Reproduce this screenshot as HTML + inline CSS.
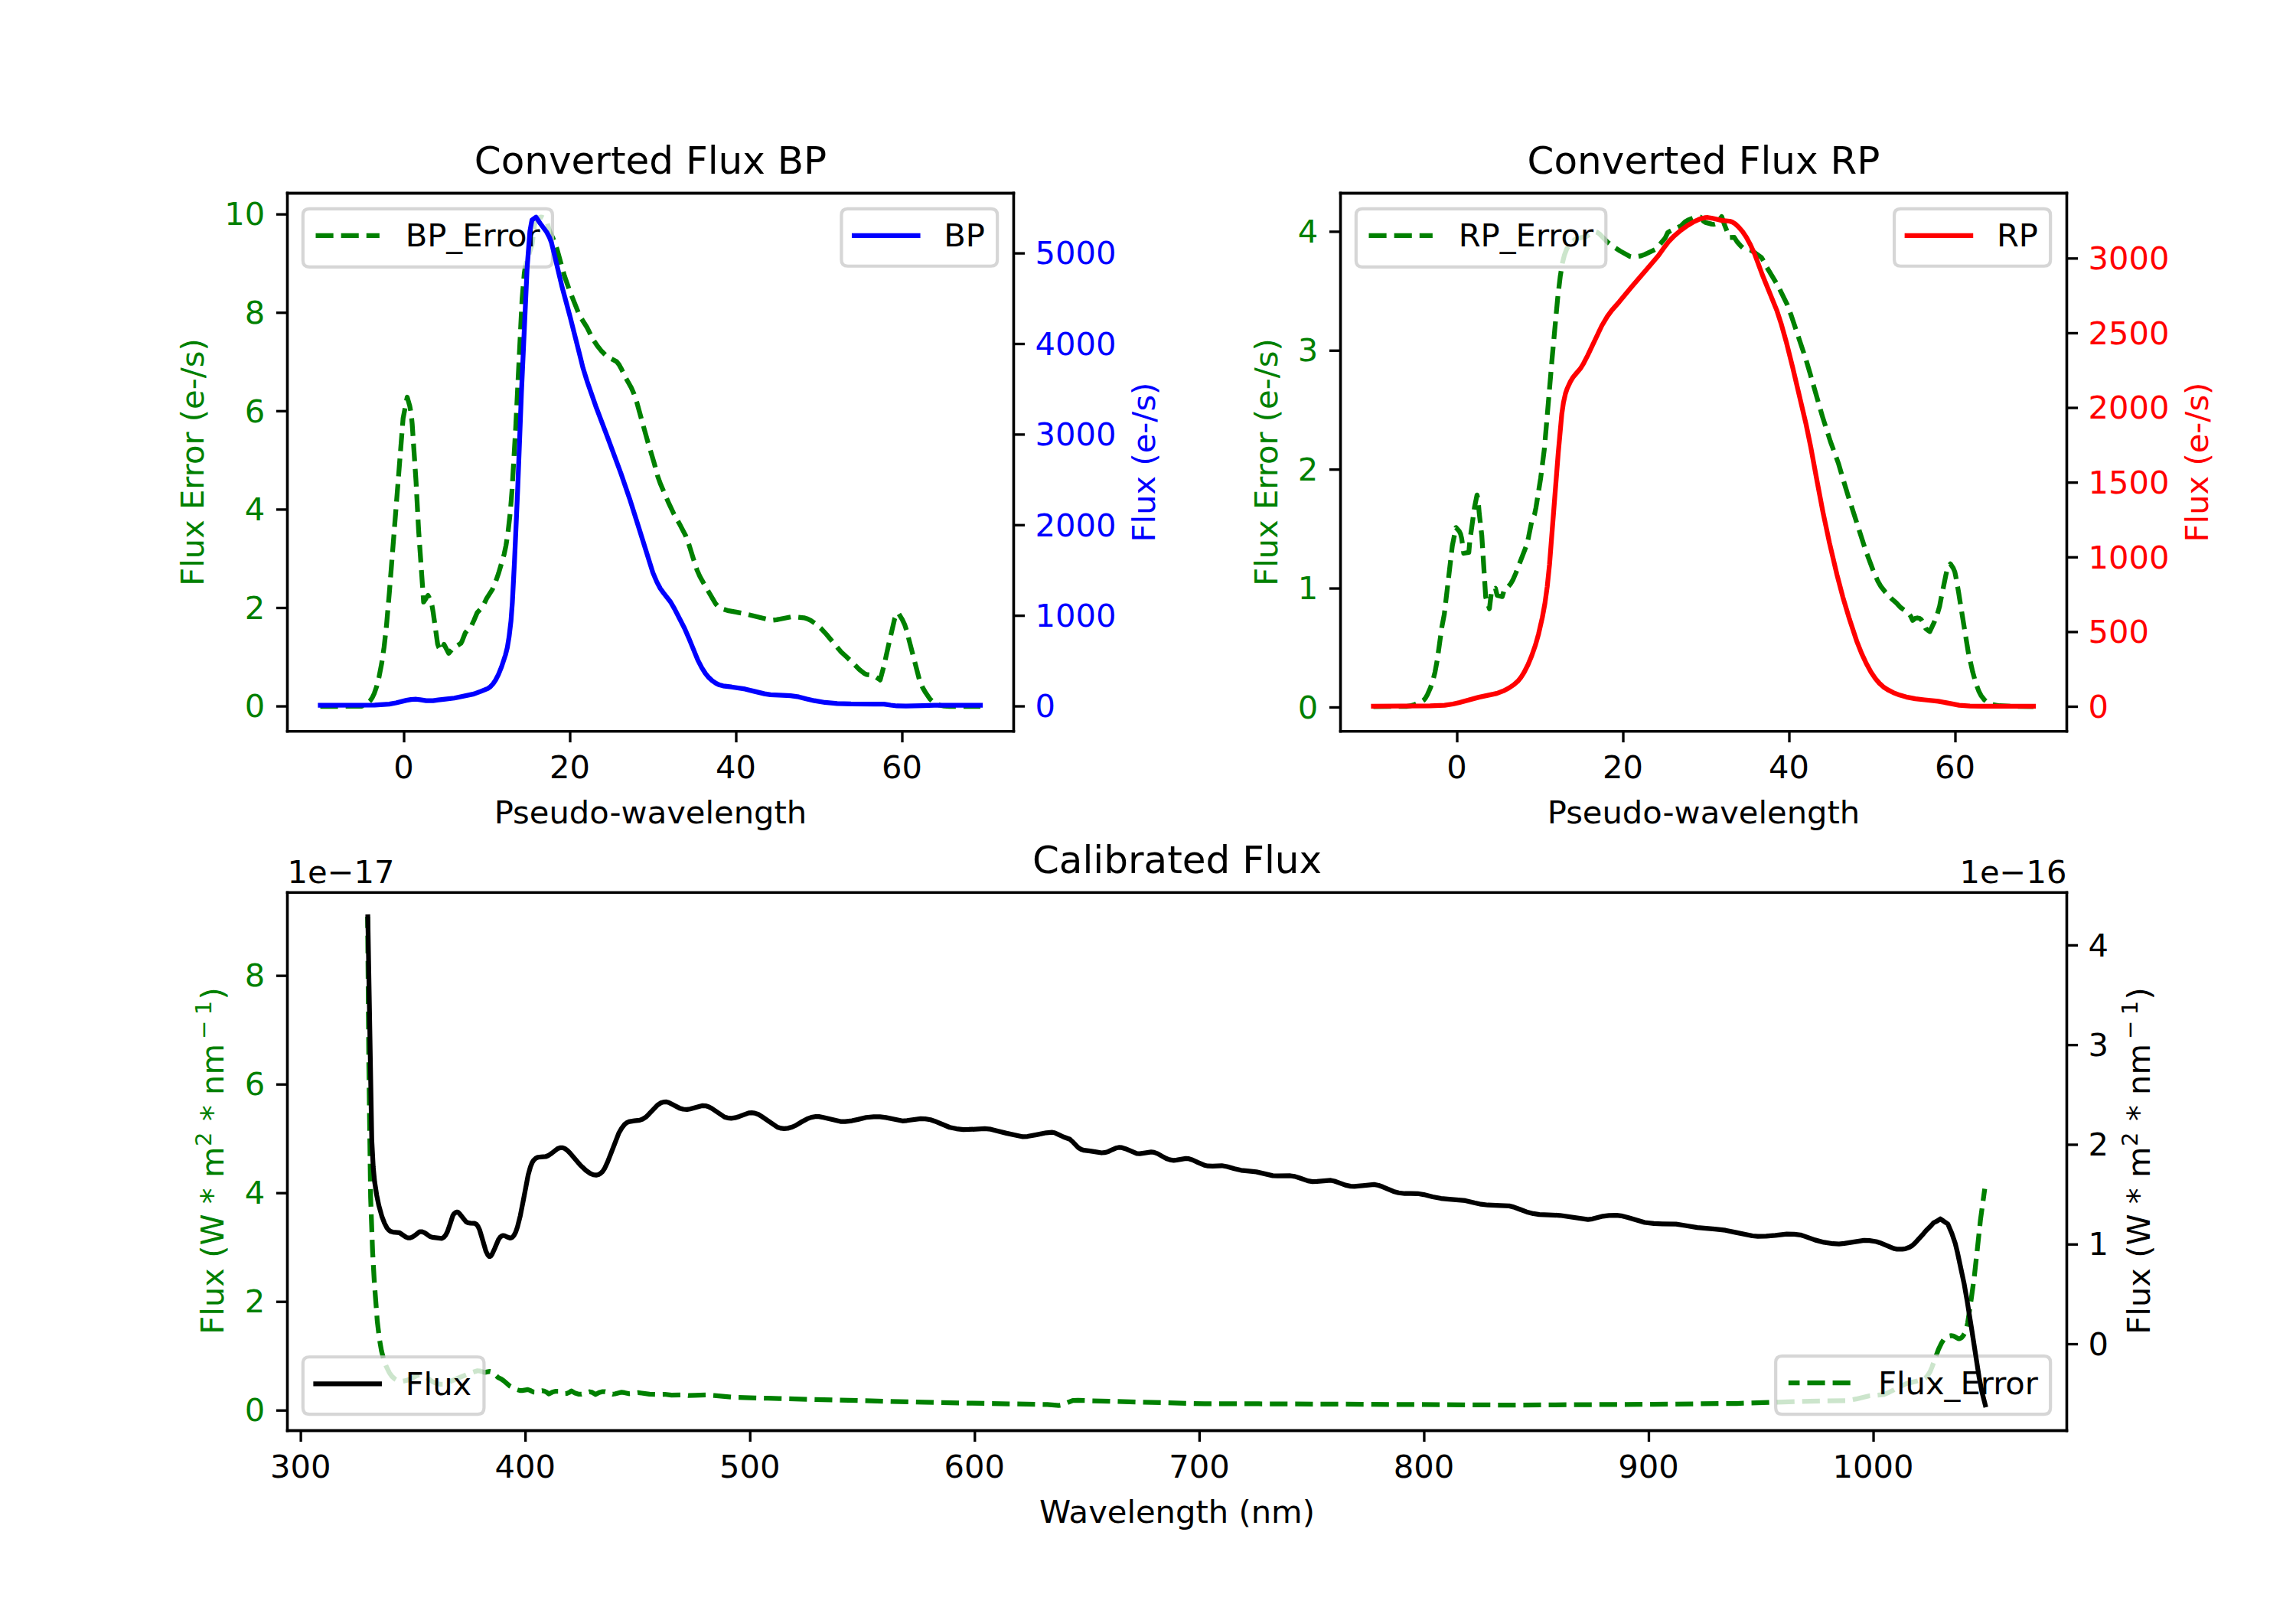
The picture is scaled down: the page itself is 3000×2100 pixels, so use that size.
<!DOCTYPE html>
<html lang="en"><head><meta charset="utf-8"><title>Flux plots</title>
<style>html,body{margin:0;padding:0;background:#fff;width:3000px;height:2100px;overflow:hidden}svg{display:block}</style>
</head><body>
<svg width="3000" height="2100" viewBox="0 0 720 504"><g transform="translate(0.12 0.12)">
 
 <defs>
  <style type="text/css">*{stroke-linejoin: round; stroke-linecap: butt}</style>
 </defs>
 <g id="figure_1">
  <g id="patch_1">
   <path d="M 0 504 
L 720 504 
L 720 0 
L 0 0 
z
" style="fill: #ffffff"/>
  </g>
  <g id="axes_1">
   <g id="patch_2">
    <path d="M 90 229.210 
L 317.755 229.210 
L 317.755 60.48 
L 90 60.48 
z
" style="fill: #ffffff"/>
   </g>
   <g id="matplotlib.axis_1">
    <g id="xtick_1">
     <g id="line2d_1">
      <defs>
       <path id="m08b7088332" d="M 0 0 
L 0 3.5 
" style="stroke: #000000; stroke-width: 0.8"/>
      </defs>
      <g>
       <use href="#m08b7088332" x="126.598" y="229.210" style="stroke: #000000; stroke-width: 0.8"/>
      </g>
     </g>
     <g id="text_1">
      <text transform="translate(-0.1 0.17)" style="font-size: 10px; font-family: 'DejaVu Sans', 'Liberation Sans', sans-serif; text-anchor: middle" x="126.598" y="243.808">0</text>
     </g>
    </g>
    <g id="xtick_2">
     <g id="line2d_2">
      <g>
       <use href="#m08b7088332" x="178.677" y="229.210" style="stroke: #000000; stroke-width: 0.8"/>
      </g>
     </g>
     <g id="text_2">
      <text transform="translate(-0.1 0.17)" style="font-size: 10px; font-family: 'DejaVu Sans', 'Liberation Sans', sans-serif; text-anchor: middle" x="178.677" y="243.808">20</text>
     </g>
    </g>
    <g id="xtick_3">
     <g id="line2d_3">
      <g>
       <use href="#m08b7088332" x="230.756" y="229.210" style="stroke: #000000; stroke-width: 0.8"/>
      </g>
     </g>
     <g id="text_3">
      <text transform="translate(-0.1 0.17)" style="font-size: 10px; font-family: 'DejaVu Sans', 'Liberation Sans', sans-serif; text-anchor: middle" x="230.756" y="243.808">40</text>
     </g>
    </g>
    <g id="xtick_4">
     <g id="line2d_4">
      <g>
       <use href="#m08b7088332" x="282.836" y="229.210" style="stroke: #000000; stroke-width: 0.8"/>
      </g>
     </g>
     <g id="text_4">
      <text transform="translate(-0.1 0.17)" style="font-size: 10px; font-family: 'DejaVu Sans', 'Liberation Sans', sans-serif; text-anchor: middle" x="282.836" y="243.808">60</text>
     </g>
    </g>
    <g id="text_5">
     <text transform="translate(0 0.67)" style="font-size: 10px; font-family: 'DejaVu Sans', 'Liberation Sans', sans-serif; text-anchor: middle" x="203.877" y="257.486">Pseudo-wavelength</text>
    </g>
   </g>
   <g id="matplotlib.axis_2">
    <g id="ytick_1">
     <g id="line2d_5">
      <defs>
       <path id="ma7b235c354" d="M 0 0 
L -3.5 0 
" style="stroke: #000000; stroke-width: 0.8"/>
      </defs>
      <g>
       <use href="#ma7b235c354" x="90" y="221.418" style="stroke: #000000; stroke-width: 0.8"/>
      </g>
     </g>
     <g id="text_6">
      <text transform="translate(0 -0.38)" style="font-size: 10px; font-family: 'DejaVu Sans', 'Liberation Sans', sans-serif; text-anchor: end; fill: #008000" x="83" y="225.217">0</text>
     </g>
    </g>
    <g id="ytick_2">
     <g id="line2d_6">
      <g>
       <use href="#ma7b235c354" x="90" y="190.557" style="stroke: #000000; stroke-width: 0.8"/>
      </g>
     </g>
     <g id="text_7">
      <text transform="translate(0 -0.38)" style="font-size: 10px; font-family: 'DejaVu Sans', 'Liberation Sans', sans-serif; text-anchor: end; fill: #008000" x="83" y="194.356">2</text>
     </g>
    </g>
    <g id="ytick_3">
     <g id="line2d_7">
      <g>
       <use href="#ma7b235c354" x="90" y="159.696" style="stroke: #000000; stroke-width: 0.8"/>
      </g>
     </g>
     <g id="text_8">
      <text transform="translate(0 -0.38)" style="font-size: 10px; font-family: 'DejaVu Sans', 'Liberation Sans', sans-serif; text-anchor: end; fill: #008000" x="83" y="163.496">4</text>
     </g>
    </g>
    <g id="ytick_4">
     <g id="line2d_8">
      <g>
       <use href="#ma7b235c354" x="90" y="128.836" style="stroke: #000000; stroke-width: 0.8"/>
      </g>
     </g>
     <g id="text_9">
      <text transform="translate(0 -0.38)" style="font-size: 10px; font-family: 'DejaVu Sans', 'Liberation Sans', sans-serif; text-anchor: end; fill: #008000" x="83" y="132.635">6</text>
     </g>
    </g>
    <g id="ytick_5">
     <g id="line2d_9">
      <g>
       <use href="#ma7b235c354" x="90" y="97.975" style="stroke: #000000; stroke-width: 0.8"/>
      </g>
     </g>
     <g id="text_10">
      <text transform="translate(0 -0.38)" style="font-size: 10px; font-family: 'DejaVu Sans', 'Liberation Sans', sans-serif; text-anchor: end; fill: #008000" x="83" y="101.774">8</text>
     </g>
    </g>
    <g id="ytick_6">
     <g id="line2d_10">
      <g>
       <use href="#ma7b235c354" x="90" y="67.115" style="stroke: #000000; stroke-width: 0.8"/>
      </g>
     </g>
     <g id="text_11">
      <text transform="translate(0 -0.38)" style="font-size: 10px; font-family: 'DejaVu Sans', 'Liberation Sans', sans-serif; text-anchor: end; fill: #008000" x="83" y="70.914">10</text>
     </g>
    </g>
    <g id="text_12">
     <text style="font-size: 10px; font-family: 'DejaVu Sans', 'Liberation Sans', sans-serif; text-anchor: middle; fill: #008000" x="64.195" y="144.845" transform="translate(-0.48 0) rotate(-90 64.195 144.845)">Flux Error (e-/s)</text>
    </g>
   </g>
   <g id="line2d_11">
    <path transform="translate(-0.12 -0.12)" d="M 100.44 221.568 
L 113.414 221.462 
L 114.321 221.130 
L 115.180 220.582 
L 116.067 219.771 
L 116.732 218.832 
L 117.359 217.487 
L 118.140 215.197 
L 118.854 212.387 
L 119.680 208.130 
L 120.457 202.888 
L 121.178 196.430 
L 122.094 185.879 
L 126.410 131.178 
L 127.555 125.266 
L 127.704 124.56 
L 128.496 127.358 
L 128.932 129.728 
L 129.251 132.854 
L 130.474 151.180 
L 131.262 166.144 
L 132.039 177.234 
L 132.826 188.566 
L 132.84 188.808 
L 134.232 186.744 
L 134.991 188.267 
L 135.470 189.903 
L 135.841 192.061 
L 137.233 201.981 
L 137.646 203.133 
L 138.141 203.934 
L 138.288 204.12 
L 139.248 202.104 
L 140.712 204.912 
L 141.809 203.614 
L 142.553 203.016 
L 144.531 201.751 
L 144.847 201.182 
L 145.894 198.483 
L 147.891 196.123 
L 148.612 194.586 
L 149.625 192.161 
L 150.263 191.473 
L 151.256 190.451 
L 151.693 189.617 
L 152.623 187.654 
L 154.426 184.819 
L 155.294 182.842 
L 156.314 179.887 
L 158.078 173.882 
L 158.676 171.069 
L 159.325 166.789 
L 160.025 160.579 
L 160.556 153.871 
L 161.731 133.959 
L 163.720 93.872 
L 164.409 85.721 
L 164.776 83.365 
L 165.315 81.519 
L 166.866 76.692 
L 167.116 74.797 
L 167.583 70.730 
L 167.962 69.575 
L 168.457 68.762 
L 168.972 68.294 
L 169.593 68.074 
L 170.034 68.124 
L 170.679 68.446 
L 171.197 68.932 
L 171.521 69.506 
L 171.818 70.660 
L 172.196 72.098 
L 172.897 73.631 
L 174.087 76.260 
L 174.657 78.085 
L 176.971 86.431 
L 178.553 90.967 
L 181.745 98.982 
L 184.175 102.847 
L 185.993 106.506 
L 187.333 108.502 
L 188.696 110.184 
L 190.071 111.535 
L 190.862 112.059 
L 193.362 113.412 
L 194.120 114.346 
L 194.815 115.603 
L 196.293 118.632 
L 197.950 121.561 
L 198.812 123.543 
L 199.659 126.046 
L 201.328 132.069 
L 203.143 138.548 
L 205.138 145.217 
L 206.257 149.396 
L 207.155 151.876 
L 209.528 157.405 
L 211.275 161.095 
L 213.274 164.659 
L 215.048 168.073 
L 215.820 170.084 
L 217.397 175.143 
L 218.582 178.797 
L 219.465 180.766 
L 220.976 183.503 
L 223.586 187.942 
L 224.452 189.411 
L 225.042 190.064 
L 225.765 190.567 
L 226.866 191.064 
L 228.520 191.555 
L 230.891 191.961 
L 233.247 192.441 
L 241.204 194.354 
L 242.382 194.499 
L 243.560 194.367 
L 248.048 193.466 
L 249.739 193.499 
L 252.122 193.758 
L 253.244 194.076 
L 254.321 194.644 
L 256.106 195.894 
L 257.541 197.185 
L 259.168 198.959 
L 263.790 204.495 
L 265.562 206.116 
L 267.300 207.782 
L 269.509 209.999 
L 271.065 211.237 
L 271.702 211.520 
L 272.613 211.647 
L 273.540 211.791 
L 274.409 212.171 
L 275.616 212.964 
L 276 213.264 
L 277.207 208.792 
L 278.790 201.653 
L 280.560 194.023 
L 281.054 192.924 
L 281.64 192.192 
L 282.917 194.251 
L 283.737 196.005 
L 284.259 197.611 
L 288.347 213.317 
L 289.281 215.538 
L 290.246 217.222 
L 291.631 219.232 
L 292.489 220.046 
L 293.519 220.712 
L 294.641 221.165 
L 296.055 221.452 
L 297.752 221.564 
L 307.44 221.568 
L 307.44 221.568 
" clip-path="url(#p9592040761)" style="fill: none; stroke-dasharray: 5.55,2.4; stroke-dashoffset: 0; stroke: #008000; stroke-width: 1.5"/>
   </g>
   <g id="patch_3">
    <path d="M 90 229.210 
L 90 60.48 
" style="fill: none; stroke: #000000; stroke-width: 0.8; stroke-linejoin: miter; stroke-linecap: square"/>
   </g>
   <g id="patch_4">
    <path d="M 317.755 229.210 
L 317.755 60.48 
" style="fill: none; stroke: #000000; stroke-width: 0.8; stroke-linejoin: miter; stroke-linecap: square"/>
   </g>
   <g id="patch_5">
    <path d="M 90 229.210 
L 317.755 229.210 
" style="fill: none; stroke: #000000; stroke-width: 0.8; stroke-linejoin: miter; stroke-linecap: square"/>
   </g>
   <g id="patch_6">
    <path d="M 90 60.48 
L 317.755 60.48 
" style="fill: none; stroke: #000000; stroke-width: 0.8; stroke-linejoin: miter; stroke-linecap: square"/>
   </g>
   <g id="text_13">
    <text style="font-size: 12px; font-family: 'DejaVu Sans', 'Liberation Sans', sans-serif; text-anchor: middle" x="203.877" y="54.48">Converted Flux BP</text>
   </g>
   <g id="legend_1">
    <g id="patch_7">
     <path d="M 97 83.746 L 171.260 83.746 Q 173.260 83.746 173.260 81.746 L 173.260 67.480 Q 173.260 65.480 171.260 65.480 L 97 65.480 Q 95 65.480 95 67.480 L 95 81.746 Q 95 83.746 97 83.746 z" transform="translate(-0.12 -0.12)" style="fill: #ffffff; opacity: 0.8; stroke: #cccccc; stroke-linejoin: miter"/>
    </g>
    <g id="line2d_12">
     <path transform="translate(-0.12 0.220)" d="M 99 73.578 
L 109 73.578 
L 119 73.578 
" style="fill: none; stroke-dasharray: 5.55,2.4; stroke-dashoffset: 0; stroke: #008000; stroke-width: 1.5"/>
    </g>
    <g id="text_14">
     <text style="font-size: 10px; font-family: 'DejaVu Sans', 'Liberation Sans', sans-serif; text-anchor: start" x="127" y="77.078">BP_Error</text>
    </g>
   </g>
  </g>
  <g id="axes_2">
   <g id="patch_8">
    <path d="M 420.244 229.210 
L 648 229.210 
L 648 60.48 
L 420.244 60.48 
z
" style="fill: #ffffff"/>
   </g>
   <g id="matplotlib.axis_3">
    <g id="xtick_5">
     <g id="line2d_13">
      <g>
       <use href="#m08b7088332" x="456.843" y="229.210" style="stroke: #000000; stroke-width: 0.8"/>
      </g>
     </g>
     <g id="text_15">
      <text transform="translate(-0.1 0.17)" style="font-size: 10px; font-family: 'DejaVu Sans', 'Liberation Sans', sans-serif; text-anchor: middle" x="456.843" y="243.808">0</text>
     </g>
    </g>
    <g id="xtick_6">
     <g id="line2d_14">
      <g>
       <use href="#m08b7088332" x="508.922" y="229.210" style="stroke: #000000; stroke-width: 0.8"/>
      </g>
     </g>
     <g id="text_16">
      <text transform="translate(-0.1 0.17)" style="font-size: 10px; font-family: 'DejaVu Sans', 'Liberation Sans', sans-serif; text-anchor: middle" x="508.922" y="243.808">20</text>
     </g>
    </g>
    <g id="xtick_7">
     <g id="line2d_15">
      <g>
       <use href="#m08b7088332" x="561.001" y="229.210" style="stroke: #000000; stroke-width: 0.8"/>
      </g>
     </g>
     <g id="text_17">
      <text transform="translate(-0.1 0.17)" style="font-size: 10px; font-family: 'DejaVu Sans', 'Liberation Sans', sans-serif; text-anchor: middle" x="561.001" y="243.808">40</text>
     </g>
    </g>
    <g id="xtick_8">
     <g id="line2d_16">
      <g>
       <use href="#m08b7088332" x="613.080" y="229.210" style="stroke: #000000; stroke-width: 0.8"/>
      </g>
     </g>
     <g id="text_18">
      <text transform="translate(-0.1 0.17)" style="font-size: 10px; font-family: 'DejaVu Sans', 'Liberation Sans', sans-serif; text-anchor: middle" x="613.080" y="243.808">60</text>
     </g>
    </g>
    <g id="text_19">
     <text transform="translate(0 0.67)" style="font-size: 10px; font-family: 'DejaVu Sans', 'Liberation Sans', sans-serif; text-anchor: middle" x="534.122" y="257.486">Pseudo-wavelength</text>
    </g>
   </g>
   <g id="matplotlib.axis_4">
    <g id="ytick_7">
     <g id="line2d_17">
      <g>
       <use href="#ma7b235c354" x="420.244" y="221.751" style="stroke: #000000; stroke-width: 0.8"/>
      </g>
     </g>
     <g id="text_20">
      <text transform="translate(0 -0.38)" style="font-size: 10px; font-family: 'DejaVu Sans', 'Liberation Sans', sans-serif; text-anchor: end; fill: #008000" x="413.244" y="225.550">0</text>
     </g>
    </g>
    <g id="ytick_8">
     <g id="line2d_18">
      <g>
       <use href="#ma7b235c354" x="420.244" y="184.454" style="stroke: #000000; stroke-width: 0.8"/>
      </g>
     </g>
     <g id="text_21">
      <text transform="translate(0 -0.38)" style="font-size: 10px; font-family: 'DejaVu Sans', 'Liberation Sans', sans-serif; text-anchor: end; fill: #008000" x="413.244" y="188.253">1</text>
     </g>
    </g>
    <g id="ytick_9">
     <g id="line2d_19">
      <g>
       <use href="#ma7b235c354" x="420.244" y="147.157" style="stroke: #000000; stroke-width: 0.8"/>
      </g>
     </g>
     <g id="text_22">
      <text transform="translate(0 -0.38)" style="font-size: 10px; font-family: 'DejaVu Sans', 'Liberation Sans', sans-serif; text-anchor: end; fill: #008000" x="413.244" y="150.956">2</text>
     </g>
    </g>
    <g id="ytick_10">
     <g id="line2d_20">
      <g>
       <use href="#ma7b235c354" x="420.244" y="109.860" style="stroke: #000000; stroke-width: 0.8"/>
      </g>
     </g>
     <g id="text_23">
      <text transform="translate(0 -0.38)" style="font-size: 10px; font-family: 'DejaVu Sans', 'Liberation Sans', sans-serif; text-anchor: end; fill: #008000" x="413.244" y="113.660">3</text>
     </g>
    </g>
    <g id="ytick_11">
     <g id="line2d_21">
      <g>
       <use href="#ma7b235c354" x="420.244" y="72.564" style="stroke: #000000; stroke-width: 0.8"/>
      </g>
     </g>
     <g id="text_24">
      <text transform="translate(0 -0.38)" style="font-size: 10px; font-family: 'DejaVu Sans', 'Liberation Sans', sans-serif; text-anchor: end; fill: #008000" x="413.244" y="76.363">4</text>
     </g>
    </g>
    <g id="text_25">
     <text style="font-size: 10px; font-family: 'DejaVu Sans', 'Liberation Sans', sans-serif; text-anchor: middle; fill: #008000" x="400.802" y="144.845" transform="translate(-0.48 0) rotate(-90 400.802 144.845)">Flux Error (e-/s)</text>
    </g>
   </g>
   <g id="line2d_22">
    <path transform="translate(-0.12 -0.12)" d="M 430.68 221.64 
L 441.057 221.527 
L 442.230 221.388 
L 443.620 220.951 
L 445.684 220.135 
L 446.425 219.632 
L 447.012 218.949 
L 447.622 217.875 
L 448.596 215.615 
L 449.373 213.322 
L 450.014 210.754 
L 450.709 206.957 
L 451.449 201.700 
L 452.138 196.688 
L 452.914 192.678 
L 455.438 171.129 
L 456.576 165.456 
L 457.590 166.572 
L 458.004 167.414 
L 458.353 168.839 
L 458.866 172.290 
L 459 173.52 
L 460.608 173.256 
L 460.902 169.822 
L 462.392 159.092 
L 463.176 155.232 
L 463.534 156.632 
L 463.652 158.315 
L 463.869 160.967 
L 464.675 167.933 
L 465.898 187.236 
L 466.281 188.630 
L 467.064 190.92 
L 467.736 185.352 
L 468.96 184.536 
L 469.488 186.696 
L 471.096 187.104 
L 471.768 184.824 
L 472.952 183.984 
L 473.701 183.126 
L 474.414 181.896 
L 475.300 179.848 
L 478.769 170.864 
L 479.323 168.523 
L 480.312 163.592 
L 481.209 161.368 
L 481.653 159.260 
L 483.135 149.981 
L 484.310 140.679 
L 486.745 112.163 
L 488.470 93.482 
L 489.293 86.556 
L 489.955 82.512 
L 490.605 79.930 
L 491.298 78.106 
L 491.998 76.901 
L 492.800 75.972 
L 493.767 75.209 
L 494.605 74.818 
L 496.001 74.500 
L 497.420 74.160 
L 498.290 73.698 
L 499.714 72.785 
L 500.299 72.702 
L 500.867 72.867 
L 501.604 73.373 
L 502.685 74.481 
L 504.151 75.990 
L 505.691 77.168 
L 508.106 78.748 
L 511.071 80.402 
L 511.747 80.542 
L 512.932 80.508 
L 514.590 80.238 
L 515.717 79.829 
L 518.971 78.294 
L 519.652 77.645 
L 522.150 74.693 
L 522.965 72.985 
L 523.497 72.600 
L 526.297 71.250 
L 527.116 70.884 
L 527.775 70.206 
L 528.468 69.537 
L 529.299 69.061 
L 531.544 68.114 
L 532.484 67.973 
L 533.145 68.067 
L 533.483 68.271 
L 533.845 68.815 
L 534.233 69.413 
L 534.795 69.782 
L 536.805 70.285 
L 537.493 70.329 
L 538.107 70.158 
L 538.603 69.701 
L 539.904 67.92 
L 540.800 70.539 
L 542.352 74.52 
L 543.84 74.424 
L 544.758 75.860 
L 545.887 77.140 
L 546.646 77.799 
L 547.268 78.110 
L 548.389 78.284 
L 549.052 78.499 
L 550.298 79.258 
L 552.385 80.760 
L 552.864 81.578 
L 553.892 83.538 
L 557.597 89.726 
L 560.467 95.550 
L 561.628 98.712 
L 566.297 112.628 
L 567.716 117.476 
L 571.501 130.657 
L 573.991 138.450 
L 575.479 142.516 
L 576.555 145.449 
L 577.831 149.839 
L 579.506 155.366 
L 585.099 172.773 
L 587.548 179.308 
L 588.928 182.388 
L 589.895 184.035 
L 591.096 185.536 
L 593.231 187.825 
L 594.675 189.087 
L 595.949 190.476 
L 598.480 192.276 
L 599.163 193.246 
L 599.784 194.568 
L 600.594 193.934 
L 601.264 193.782 
L 601.939 193.935 
L 602.508 194.358 
L 602.906 194.973 
L 603.920 197.177 
L 604.703 197.799 
L 605.16 198.072 
L 606.515 195.221 
L 607.558 192.500 
L 608.235 190.169 
L 608.692 187.785 
L 609.319 184.692 
L 610.245 180.164 
L 610.589 178.768 
L 611.094 177.674 
L 611.616 176.832 
L 612.561 178.278 
L 613.011 179.374 
L 613.308 180.775 
L 614.199 185.786 
L 614.871 190.085 
L 617.245 204.635 
L 618.622 210.770 
L 619.602 214.263 
L 620.532 216.784 
L 621.314 218.262 
L 622.223 219.424 
L 623.141 220.198 
L 624.185 220.723 
L 625.597 221.152 
L 627.032 221.335 
L 632.041 221.561 
L 637.68 221.64 
L 637.68 221.64 
" clip-path="url(#p4743c9e62c)" style="fill: none; stroke-dasharray: 5.55,2.4; stroke-dashoffset: 0; stroke: #008000; stroke-width: 1.5"/>
   </g>
   <g id="patch_9">
    <path d="M 420.244 229.210 
L 420.244 60.48 
" style="fill: none; stroke: #000000; stroke-width: 0.8; stroke-linejoin: miter; stroke-linecap: square"/>
   </g>
   <g id="patch_10">
    <path d="M 648 229.210 
L 648 60.48 
" style="fill: none; stroke: #000000; stroke-width: 0.8; stroke-linejoin: miter; stroke-linecap: square"/>
   </g>
   <g id="patch_11">
    <path d="M 420.244 229.210 
L 648 229.210 
" style="fill: none; stroke: #000000; stroke-width: 0.8; stroke-linejoin: miter; stroke-linecap: square"/>
   </g>
   <g id="patch_12">
    <path d="M 420.244 60.48 
L 648 60.48 
" style="fill: none; stroke: #000000; stroke-width: 0.8; stroke-linejoin: miter; stroke-linecap: square"/>
   </g>
   <g id="text_26">
    <text style="font-size: 12px; font-family: 'DejaVu Sans', 'Liberation Sans', sans-serif; text-anchor: middle" x="534.122" y="54.48">Converted Flux RP</text>
   </g>
   <g id="legend_2">
    <g id="patch_13">
     <path d="M 427.244 83.746 L 501.593 83.746 Q 503.593 83.746 503.593 81.746 L 503.593 67.480 Q 503.593 65.480 501.593 65.480 L 427.244 65.480 Q 425.244 65.480 425.244 67.480 L 425.244 81.746 Q 425.244 83.746 427.244 83.746 z" transform="translate(-0.12 -0.12)" style="fill: #ffffff; opacity: 0.8; stroke: #cccccc; stroke-linejoin: miter"/>
    </g>
    <g id="line2d_23">
     <path transform="translate(-0.12 0.220)" d="M 429.244 73.578 
L 439.244 73.578 
L 449.244 73.578 
" style="fill: none; stroke-dasharray: 5.55,2.4; stroke-dashoffset: 0; stroke: #008000; stroke-width: 1.5"/>
    </g>
    <g id="text_27">
     <text style="font-size: 10px; font-family: 'DejaVu Sans', 'Liberation Sans', sans-serif; text-anchor: start" x="457.244" y="77.078">RP_Error</text>
    </g>
   </g>
  </g>
  <g id="axes_3">
   <g id="patch_14">
    <path d="M 90 448.56 
L 648 448.56 
L 648 279.829 
L 90 279.829 
z
" style="fill: #ffffff"/>
   </g>
   <g id="matplotlib.axis_5">
    <g id="xtick_9">
     <g id="line2d_24">
      <g>
       <use href="#m08b7088332" x="94.227" y="448.56" style="stroke: #000000; stroke-width: 0.8"/>
      </g>
     </g>
     <g id="text_28">
      <text transform="translate(-0.1 0.17)" style="font-size: 10px; font-family: 'DejaVu Sans', 'Liberation Sans', sans-serif; text-anchor: middle" x="94.227" y="463.158">300</text>
     </g>
    </g>
    <g id="xtick_10">
     <g id="line2d_25">
      <g>
       <use href="#m08b7088332" x="164.681" y="448.56" style="stroke: #000000; stroke-width: 0.8"/>
      </g>
     </g>
     <g id="text_29">
      <text transform="translate(-0.1 0.17)" style="font-size: 10px; font-family: 'DejaVu Sans', 'Liberation Sans', sans-serif; text-anchor: middle" x="164.681" y="463.158">400</text>
     </g>
    </g>
    <g id="xtick_11">
     <g id="line2d_26">
      <g>
       <use href="#m08b7088332" x="235.136" y="448.56" style="stroke: #000000; stroke-width: 0.8"/>
      </g>
     </g>
     <g id="text_30">
      <text transform="translate(-0.1 0.17)" style="font-size: 10px; font-family: 'DejaVu Sans', 'Liberation Sans', sans-serif; text-anchor: middle" x="235.136" y="463.158">500</text>
     </g>
    </g>
    <g id="xtick_12">
     <g id="line2d_27">
      <g>
       <use href="#m08b7088332" x="305.590" y="448.56" style="stroke: #000000; stroke-width: 0.8"/>
      </g>
     </g>
     <g id="text_31">
      <text transform="translate(-0.1 0.17)" style="font-size: 10px; font-family: 'DejaVu Sans', 'Liberation Sans', sans-serif; text-anchor: middle" x="305.590" y="463.158">600</text>
     </g>
    </g>
    <g id="xtick_13">
     <g id="line2d_28">
      <g>
       <use href="#m08b7088332" x="376.045" y="448.56" style="stroke: #000000; stroke-width: 0.8"/>
      </g>
     </g>
     <g id="text_32">
      <text transform="translate(-0.1 0.17)" style="font-size: 10px; font-family: 'DejaVu Sans', 'Liberation Sans', sans-serif; text-anchor: middle" x="376.045" y="463.158">700</text>
     </g>
    </g>
    <g id="xtick_14">
     <g id="line2d_29">
      <g>
       <use href="#m08b7088332" x="446.5" y="448.56" style="stroke: #000000; stroke-width: 0.8"/>
      </g>
     </g>
     <g id="text_33">
      <text transform="translate(-0.1 0.17)" style="font-size: 10px; font-family: 'DejaVu Sans', 'Liberation Sans', sans-serif; text-anchor: middle" x="446.5" y="463.158">800</text>
     </g>
    </g>
    <g id="xtick_15">
     <g id="line2d_30">
      <g>
       <use href="#m08b7088332" x="516.954" y="448.56" style="stroke: #000000; stroke-width: 0.8"/>
      </g>
     </g>
     <g id="text_34">
      <text transform="translate(-0.1 0.17)" style="font-size: 10px; font-family: 'DejaVu Sans', 'Liberation Sans', sans-serif; text-anchor: middle" x="516.954" y="463.158">900</text>
     </g>
    </g>
    <g id="xtick_16">
     <g id="line2d_31">
      <g>
       <use href="#m08b7088332" x="587.409" y="448.56" style="stroke: #000000; stroke-width: 0.8"/>
      </g>
     </g>
     <g id="text_35">
      <text transform="translate(-0.1 0.17)" style="font-size: 10px; font-family: 'DejaVu Sans', 'Liberation Sans', sans-serif; text-anchor: middle" x="587.409" y="463.158">1000</text>
     </g>
    </g>
    <g id="text_36">
     <text transform="translate(0 0.67)" style="font-size: 10px; font-family: 'DejaVu Sans', 'Liberation Sans', sans-serif; text-anchor: middle" x="369" y="476.836">Wavelength (nm)</text>
    </g>
   </g>
   <g id="matplotlib.axis_6">
    <g id="ytick_12">
     <g id="line2d_32">
      <g>
       <use href="#ma7b235c354" x="90" y="442.254" style="stroke: #000000; stroke-width: 0.8"/>
      </g>
     </g>
     <g id="text_37">
      <text transform="translate(0 -0.38)" style="font-size: 10px; font-family: 'DejaVu Sans', 'Liberation Sans', sans-serif; text-anchor: end; fill: #008000" x="83" y="446.053">0</text>
     </g>
    </g>
    <g id="ytick_13">
     <g id="line2d_33">
      <g>
       <use href="#ma7b235c354" x="90" y="408.171" style="stroke: #000000; stroke-width: 0.8"/>
      </g>
     </g>
     <g id="text_38">
      <text transform="translate(0 -0.38)" style="font-size: 10px; font-family: 'DejaVu Sans', 'Liberation Sans', sans-serif; text-anchor: end; fill: #008000" x="83" y="411.970">2</text>
     </g>
    </g>
    <g id="ytick_14">
     <g id="line2d_34">
      <g>
       <use href="#ma7b235c354" x="90" y="374.087" style="stroke: #000000; stroke-width: 0.8"/>
      </g>
     </g>
     <g id="text_39">
      <text transform="translate(0 -0.38)" style="font-size: 10px; font-family: 'DejaVu Sans', 'Liberation Sans', sans-serif; text-anchor: end; fill: #008000" x="83" y="377.886">4</text>
     </g>
    </g>
    <g id="ytick_15">
     <g id="line2d_35">
      <g>
       <use href="#ma7b235c354" x="90" y="340.004" style="stroke: #000000; stroke-width: 0.8"/>
      </g>
     </g>
     <g id="text_40">
      <text transform="translate(0 -0.38)" style="font-size: 10px; font-family: 'DejaVu Sans', 'Liberation Sans', sans-serif; text-anchor: end; fill: #008000" x="83" y="343.803">6</text>
     </g>
    </g>
    <g id="ytick_16">
     <g id="line2d_36">
      <g>
       <use href="#ma7b235c354" x="90" y="305.920" style="stroke: #000000; stroke-width: 0.8"/>
      </g>
     </g>
     <g id="text_41">
      <text transform="translate(0 -0.38)" style="font-size: 10px; font-family: 'DejaVu Sans', 'Liberation Sans', sans-serif; text-anchor: end; fill: #008000" x="83" y="309.719">8</text>
     </g>
    </g>
    <g id="text_42">
     <!-- Flux (W * m$^2$ * nm$^-$$^1$) -->
     <g style="fill: #008000" transform="translate(0.41 -0.24) translate(70.557 418.594) rotate(-90)">
      <text><tspan x="0.000" y="-0.977" style="font-size: 10px; font-family: 'DejaVu Sans', 'Liberation Sans', sans-serif; font-kerning: none; fill: #008000">Flux (W * m</tspan><tspan x="58.948" y="-4.805" style="font-size: 7px; font-family: 'DejaVu Sans', 'Liberation Sans', sans-serif; font-kerning: none; fill: #008000">2</tspan><tspan x="66.854" y="-0.977" style="font-size: 10px; font-family: 'DejaVu Sans', 'Liberation Sans', sans-serif; font-kerning: none; fill: #008000">* nm</tspan><tspan x="92.571" y="-4.805" style="font-size: 7px; font-family: 'DejaVu Sans', 'Liberation Sans', sans-serif; font-kerning: none; fill: #008000">−</tspan><tspan x="100.169" y="-4.805" style="font-size: 7px; font-family: 'DejaVu Sans', 'Liberation Sans', sans-serif; font-kerning: none; fill: #008000">1</tspan><tspan x="104.896" y="-0.977" style="font-size: 10px; font-family: 'DejaVu Sans', 'Liberation Sans', sans-serif; font-kerning: none; fill: #008000">)</tspan></text>
     </g>
    </g>
    <g id="text_43">
     <text style="font-size: 10px; font-family: 'DejaVu Sans', 'Liberation Sans', sans-serif; text-anchor: start" x="90" y="276.829">1e−17</text>
    </g>
   </g>
   <g id="line2d_37">
    <path transform="translate(-0.12 -0.12)" d="M 115.272 287.52 
L 115.659 333.201 
L 116.221 375.513 
L 116.842 392.573 
L 117.406 402.415 
L 118.316 414.403 
L 118.967 419.895 
L 119.632 423.690 
L 120.347 426.480 
L 121.104 428.515 
L 122.078 430.483 
L 122.907 431.661 
L 123.778 432.461 
L 124.621 432.979 
L 125.295 433.196 
L 126.218 433.210 
L 127.638 432.903 
L 128.766 432.459 
L 130.909 431.334 
L 131.586 431.283 
L 132.520 431.458 
L 133.630 431.898 
L 134.619 432.588 
L 135.801 433.426 
L 136.907 433.879 
L 138.083 434.151 
L 139.009 434.139 
L 139.914 433.880 
L 143.913 432.102 
L 147.705 430.571 
L 149.755 429.902 
L 150.431 429.967 
L 151.994 430.421 
L 152.668 430.287 
L 153.578 430.108 
L 154.248 430.251 
L 154.842 430.612 
L 155.489 431.325 
L 156.156 431.991 
L 157.191 432.518 
L 157.965 433.061 
L 159.985 434.770 
L 161.909 435.762 
L 163.043 436.113 
L 163.732 436.105 
L 165.532 435.792 
L 166.193 436.044 
L 167.240 436.562 
L 167.908 436.597 
L 169.070 436.305 
L 169.976 436.158 
L 170.640 436.266 
L 171.294 436.560 
L 172.152 437.184 
L 173.340 436.562 
L 174.308 436.327 
L 175.044 436.331 
L 175.765 436.518 
L 177.110 437.065 
L 177.790 437.021 
L 178.492 436.728 
L 179.208 436.248 
L 180.402 436.945 
L 181.362 437.235 
L 182.328 437.278 
L 183.049 437.111 
L 184.880 436.492 
L 185.571 436.637 
L 186.272 437.013 
L 186.744 437.352 
L 187.880 436.751 
L 188.796 436.497 
L 189.717 436.452 
L 190.633 436.667 
L 192.157 437.235 
L 192.830 437.159 
L 194.924 436.637 
L 195.855 436.787 
L 197.255 437.110 
L 198.196 437.048 
L 200.089 436.775 
L 201.273 436.919 
L 203.654 437.265 
L 205.573 437.327 
L 208.441 437.285 
L 210.577 437.555 
L 214.159 437.501 
L 215.825 437.693 
L 217.982 437.616 
L 221.344 437.510 
L 223.977 437.686 
L 230.202 438.215 
L 240.762 438.538 
L 289.745 439.779 
L 311.123 440.205 
L 328.411 440.485 
L 330.563 440.677 
L 331.981 440.806 
L 332.908 440.655 
L 334.044 440.222 
L 336.434 439.212 
L 338.035 439.195 
L 347.735 439.485 
L 377.746 440.272 
L 394.798 440.28 
L 420.976 440.390 
L 474.773 440.666 
L 518.484 440.415 
L 544.661 440.163 
L 559.065 439.712 
L 567.466 439.443 
L 579.464 439.272 
L 582.063 438.766 
L 586.254 437.763 
L 590.766 437.354 
L 591.864 436.901 
L 597.689 433.973 
L 600.029 433.414 
L 603.066 432.635 
L 603.821 432.151 
L 604.475 431.433 
L 605.246 430.194 
L 605.887 428.663 
L 607.883 423.195 
L 608.837 421.245 
L 609.641 419.950 
L 610.298 419.322 
L 610.899 419.056 
L 611.831 418.902 
L 612.531 418.992 
L 613.193 419.313 
L 614.202 419.853 
L 614.570 419.853 
L 615.097 419.555 
L 615.589 418.992 
L 616.135 418.057 
L 616.643 416.695 
L 617.041 414.854 
L 618.058 408.115 
L 619.109 400.502 
L 620.108 391.430 
L 621.050 382.595 
L 622.392 372.84 
L 622.392 372.84 
" clip-path="url(#pee1f3341e4)" style="fill: none; stroke-dasharray: 5.55,2.4; stroke-dashoffset: 2.04; stroke: #008000; stroke-width: 1.5"/>
   </g>
   <g id="patch_15">
    <path d="M 90 448.56 
L 90 279.829 
" style="fill: none; stroke: #000000; stroke-width: 0.8; stroke-linejoin: miter; stroke-linecap: square"/>
   </g>
   <g id="patch_16">
    <path d="M 648 448.56 
L 648 279.829 
" style="fill: none; stroke: #000000; stroke-width: 0.8; stroke-linejoin: miter; stroke-linecap: square"/>
   </g>
   <g id="patch_17">
    <path d="M 90 448.56 
L 648 448.56 
" style="fill: none; stroke: #000000; stroke-width: 0.8; stroke-linejoin: miter; stroke-linecap: square"/>
   </g>
   <g id="patch_18">
    <path d="M 90 279.829 
L 648 279.829 
" style="fill: none; stroke: #000000; stroke-width: 0.8; stroke-linejoin: miter; stroke-linecap: square"/>
   </g>
   <g id="text_44">
    <text style="font-size: 12px; font-family: 'DejaVu Sans', 'Liberation Sans', sans-serif; text-anchor: middle" x="369" y="273.829">Calibrated Flux</text>
   </g>
   <g id="legend_3">
    <g id="patch_19">
     <path d="M 558.843 443.560 L 641 443.560 Q 643 443.560 643 441.560 L 643 427.293 Q 643 425.293 641 425.293 L 558.843 425.293 Q 556.843 425.293 556.843 427.293 L 556.843 441.560 Q 556.843 443.560 558.843 443.560 z" transform="translate(-0.12 -0.12)" style="fill: #ffffff; opacity: 0.8; stroke: #cccccc; stroke-linejoin: miter"/>
    </g>
    <g id="line2d_38">
     <path transform="translate(-0.12 -0.120)" d="M 560.843 433.702 
L 570.843 433.702 
L 580.843 433.702 
" style="fill: none; stroke-dasharray: 5.55,2.4; stroke-dashoffset: 2.04; stroke: #008000; stroke-width: 1.5"/>
    </g>
    <g id="text_45">
     <text style="font-size: 10px; font-family: 'DejaVu Sans', 'Liberation Sans', sans-serif; text-anchor: start" x="588.843" y="437.202">Flux_Error</text>
    </g>
   </g>
  </g>
  <g id="axes_4">
   <g id="matplotlib.axis_7">
    <g id="ytick_17">
     <g id="line2d_39">
      <defs>
       <path id="mc3a93c45a5" d="M 0 0 
L 3.5 0 
" style="stroke: #000000; stroke-width: 0.8"/>
      </defs>
      <g>
       <use href="#mc3a93c45a5" x="317.755" y="221.411" style="stroke: #000000; stroke-width: 0.8"/>
      </g>
     </g>
     <g id="text_46">
      <text transform="translate(-0.29 -0.38)" style="font-size: 10px; font-family: 'DejaVu Sans', 'Liberation Sans', sans-serif; text-anchor: start; fill: #0000ff" x="324.755" y="225.210">0</text>
     </g>
    </g>
    <g id="ytick_18">
     <g id="line2d_40">
      <g>
       <use href="#mc3a93c45a5" x="317.755" y="192.998" style="stroke: #000000; stroke-width: 0.8"/>
      </g>
     </g>
     <g id="text_47">
      <text transform="translate(-0.29 -0.38)" style="font-size: 10px; font-family: 'DejaVu Sans', 'Liberation Sans', sans-serif; text-anchor: start; fill: #0000ff" x="324.755" y="196.797">1000</text>
     </g>
    </g>
    <g id="ytick_19">
     <g id="line2d_41">
      <g>
       <use href="#mc3a93c45a5" x="317.755" y="164.585" style="stroke: #000000; stroke-width: 0.8"/>
      </g>
     </g>
     <g id="text_48">
      <text transform="translate(-0.29 -0.38)" style="font-size: 10px; font-family: 'DejaVu Sans', 'Liberation Sans', sans-serif; text-anchor: start; fill: #0000ff" x="324.755" y="168.384">2000</text>
     </g>
    </g>
    <g id="ytick_20">
     <g id="line2d_42">
      <g>
       <use href="#mc3a93c45a5" x="317.755" y="136.172" style="stroke: #000000; stroke-width: 0.8"/>
      </g>
     </g>
     <g id="text_49">
      <text transform="translate(-0.29 -0.38)" style="font-size: 10px; font-family: 'DejaVu Sans', 'Liberation Sans', sans-serif; text-anchor: start; fill: #0000ff" x="324.755" y="139.971">3000</text>
     </g>
    </g>
    <g id="ytick_21">
     <g id="line2d_43">
      <g>
       <use href="#mc3a93c45a5" x="317.755" y="107.759" style="stroke: #000000; stroke-width: 0.8"/>
      </g>
     </g>
     <g id="text_50">
      <text transform="translate(-0.29 -0.38)" style="font-size: 10px; font-family: 'DejaVu Sans', 'Liberation Sans', sans-serif; text-anchor: start; fill: #0000ff" x="324.755" y="111.558">4000</text>
     </g>
    </g>
    <g id="ytick_22">
     <g id="line2d_44">
      <g>
       <use href="#mc3a93c45a5" x="317.755" y="79.346" style="stroke: #000000; stroke-width: 0.8"/>
      </g>
     </g>
     <g id="text_51">
      <text transform="translate(-0.29 -0.38)" style="font-size: 10px; font-family: 'DejaVu Sans', 'Liberation Sans', sans-serif; text-anchor: start; fill: #0000ff" x="324.755" y="83.145">5000</text>
     </g>
    </g>
    <g id="text_52">
     <text style="font-size: 10px; font-family: 'DejaVu Sans', 'Liberation Sans', sans-serif; text-anchor: middle; fill: #0000ff" x="361.803" y="144.845" transform="translate(0.12 0) rotate(-90 361.803 144.845)">Flux (e-/s)</text>
    </g>
   </g>
   <g id="line2d_45">
    <path transform="translate(-0.12 -0.12)" d="M 100.44 221.208 
L 117.513 221.106 
L 122.061 220.817 
L 124.193 220.442 
L 127.470 219.633 
L 128.881 219.374 
L 130.556 219.296 
L 131.744 219.452 
L 133.645 219.743 
L 135.803 219.757 
L 137.468 219.524 
L 139.617 219.250 
L 142.479 218.941 
L 148.589 217.660 
L 150.842 216.793 
L 153.067 215.887 
L 153.821 215.329 
L 154.635 214.436 
L 155.434 213.242 
L 156.309 211.517 
L 157.301 209.067 
L 158.506 205.409 
L 159.089 203.081 
L 159.640 199.759 
L 160.238 194.746 
L 160.663 188.993 
L 161.331 176.270 
L 162.350 153.216 
L 163.511 123.191 
L 165.311 83.811 
L 166.176 72.546 
L 166.636 69.943 
L 166.824 69 
L 168.072 68.088 
L 169.418 70.077 
L 171.421 72.777 
L 172.315 74.476 
L 172.909 76.049 
L 173.494 78.380 
L 176.160 89.600 
L 178.777 99.351 
L 182.072 112.400 
L 182.823 115.427 
L 184.110 119.560 
L 186.787 127.283 
L 190.451 136.947 
L 194.707 148.442 
L 197.442 156.396 
L 200.487 166.021 
L 204.717 179.556 
L 205.936 182.434 
L 207.056 184.558 
L 208.028 185.916 
L 210.257 188.754 
L 211.459 190.832 
L 214.661 197.034 
L 215.911 199.893 
L 218.833 207.015 
L 220.043 209.364 
L 221.205 211.194 
L 222.271 212.495 
L 223.327 213.482 
L 224.518 214.291 
L 225.609 214.818 
L 226.750 215.121 
L 229.381 215.453 
L 233.659 216.103 
L 236.222 216.746 
L 239.737 217.585 
L 241.632 217.886 
L 244.269 218.002 
L 247.872 218.205 
L 250.484 218.566 
L 252.814 219.164 
L 255.391 219.764 
L 258.712 220.315 
L 262.541 220.630 
L 266.867 220.792 
L 274.079 220.817 
L 277.196 220.832 
L 279.341 221.158 
L 281.249 221.397 
L 284.129 221.424 
L 289.416 221.318 
L 293.019 221.208 
L 307.44 221.208 
L 307.44 221.208 
" clip-path="url(#p9592040761)" style="fill: none; stroke: #0000ff; stroke-width: 1.5; stroke-linecap: square"/>
   </g>
   <g id="patch_20">
    <path d="M 90 229.210 
L 90 60.48 
" style="fill: none; stroke: #000000; stroke-width: 0.8; stroke-linejoin: miter; stroke-linecap: square"/>
   </g>
   <g id="patch_21">
    <path d="M 317.755 229.210 
L 317.755 60.48 
" style="fill: none; stroke: #000000; stroke-width: 0.8; stroke-linejoin: miter; stroke-linecap: square"/>
   </g>
   <g id="patch_22">
    <path d="M 90 229.210 
L 317.755 229.210 
" style="fill: none; stroke: #000000; stroke-width: 0.8; stroke-linejoin: miter; stroke-linecap: square"/>
   </g>
   <g id="patch_23">
    <path d="M 90 60.48 
L 317.755 60.48 
" style="fill: none; stroke: #000000; stroke-width: 0.8; stroke-linejoin: miter; stroke-linecap: square"/>
   </g>
   <g id="legend_4">
    <g id="patch_24">
     <path d="M 265.864 83.468 L 310.755 83.468 Q 312.755 83.468 312.755 81.468 L 312.755 67.480 Q 312.755 65.480 310.755 65.480 L 265.864 65.480 Q 263.864 65.480 263.864 67.480 L 263.864 81.468 Q 263.864 83.468 265.864 83.468 z" transform="translate(-0.12 -0.12)" style="fill: #ffffff; opacity: 0.8; stroke: #cccccc; stroke-linejoin: miter"/>
    </g>
    <g id="line2d_46">
     <path transform="translate(-0.12 0.220)" d="M 267.864 73.578 
L 277.864 73.578 
L 287.864 73.578 
" style="fill: none; stroke: #0000ff; stroke-width: 1.5; stroke-linecap: square"/>
    </g>
    <g id="text_53">
     <text style="font-size: 10px; font-family: 'DejaVu Sans', 'Liberation Sans', sans-serif; text-anchor: start" x="295.864" y="77.078">BP</text>
    </g>
   </g>
  </g>
  <g id="axes_5">
   <g id="matplotlib.axis_8">
    <g id="ytick_23">
     <g id="line2d_47">
      <g>
       <use href="#mc3a93c45a5" x="648" y="221.525" style="stroke: #000000; stroke-width: 0.8"/>
      </g>
     </g>
     <g id="text_54">
      <text transform="translate(-0.29 -0.38)" style="font-size: 10px; font-family: 'DejaVu Sans', 'Liberation Sans', sans-serif; text-anchor: start; fill: #ff0000" x="655" y="225.325">0</text>
     </g>
    </g>
    <g id="ytick_24">
     <g id="line2d_48">
      <g>
       <use href="#mc3a93c45a5" x="648" y="198.097" style="stroke: #000000; stroke-width: 0.8"/>
      </g>
     </g>
     <g id="text_55">
      <text transform="translate(-0.29 -0.38)" style="font-size: 10px; font-family: 'DejaVu Sans', 'Liberation Sans', sans-serif; text-anchor: start; fill: #ff0000" x="655" y="201.896">500</text>
     </g>
    </g>
    <g id="ytick_25">
     <g id="line2d_49">
      <g>
       <use href="#mc3a93c45a5" x="648" y="174.669" style="stroke: #000000; stroke-width: 0.8"/>
      </g>
     </g>
     <g id="text_56">
      <text transform="translate(-0.29 -0.38)" style="font-size: 10px; font-family: 'DejaVu Sans', 'Liberation Sans', sans-serif; text-anchor: start; fill: #ff0000" x="655" y="178.468">1000</text>
     </g>
    </g>
    <g id="ytick_26">
     <g id="line2d_50">
      <g>
       <use href="#mc3a93c45a5" x="648" y="151.241" style="stroke: #000000; stroke-width: 0.8"/>
      </g>
     </g>
     <g id="text_57">
      <text transform="translate(-0.29 -0.38)" style="font-size: 10px; font-family: 'DejaVu Sans', 'Liberation Sans', sans-serif; text-anchor: start; fill: #ff0000" x="655" y="155.040">1500</text>
     </g>
    </g>
    <g id="ytick_27">
     <g id="line2d_51">
      <g>
       <use href="#mc3a93c45a5" x="648" y="127.812" style="stroke: #000000; stroke-width: 0.8"/>
      </g>
     </g>
     <g id="text_58">
      <text transform="translate(-0.29 -0.38)" style="font-size: 10px; font-family: 'DejaVu Sans', 'Liberation Sans', sans-serif; text-anchor: start; fill: #ff0000" x="655" y="131.612">2000</text>
     </g>
    </g>
    <g id="ytick_28">
     <g id="line2d_52">
      <g>
       <use href="#mc3a93c45a5" x="648" y="104.384" style="stroke: #000000; stroke-width: 0.8"/>
      </g>
     </g>
     <g id="text_59">
      <text transform="translate(-0.29 -0.38)" style="font-size: 10px; font-family: 'DejaVu Sans', 'Liberation Sans', sans-serif; text-anchor: start; fill: #ff0000" x="655" y="108.183">2500</text>
     </g>
    </g>
    <g id="ytick_29">
     <g id="line2d_53">
      <g>
       <use href="#mc3a93c45a5" x="648" y="80.956" style="stroke: #000000; stroke-width: 0.8"/>
      </g>
     </g>
     <g id="text_60">
      <text transform="translate(-0.29 -0.38)" style="font-size: 10px; font-family: 'DejaVu Sans', 'Liberation Sans', sans-serif; text-anchor: start; fill: #ff0000" x="655" y="84.755">3000</text>
     </g>
    </g>
    <g id="text_61">
     <text style="font-size: 10px; font-family: 'DejaVu Sans', 'Liberation Sans', sans-serif; text-anchor: middle; fill: #ff0000" x="692.048" y="144.845" transform="translate(0.12 0) rotate(-90 692.048 144.845)">Flux (e-/s)</text>
    </g>
   </g>
   <g id="line2d_54">
    <path transform="translate(-0.12 -0.12)" d="M 430.68 221.472 
L 448.466 221.356 
L 453.010 221.198 
L 455.626 220.798 
L 457.723 220.300 
L 463.757 218.671 
L 469.393 217.480 
L 471.408 216.706 
L 473.117 215.816 
L 474.720 214.746 
L 475.982 213.639 
L 476.889 212.545 
L 477.925 210.906 
L 479.123 208.555 
L 480.321 205.663 
L 481.514 202.262 
L 482.487 198.796 
L 483.660 193.642 
L 484.485 189.154 
L 485.202 183.919 
L 485.916 176.991 
L 486.757 166.215 
L 488.651 142.031 
L 489.760 129.829 
L 490.280 126.261 
L 490.907 123.449 
L 491.451 121.866 
L 492.471 119.683 
L 493.334 118.245 
L 494.260 117.148 
L 495.513 115.694 
L 496.535 114.071 
L 497.860 111.506 
L 502.288 102.177 
L 504.016 99.284 
L 505.419 97.350 
L 507.802 94.641 
L 511.625 90.009 
L 517.093 83.624 
L 520.060 80.158 
L 522.015 77.403 
L 523.488 75.524 
L 525.002 73.989 
L 527.024 72.274 
L 529.174 70.734 
L 531.249 69.522 
L 533.221 68.618 
L 534.609 68.268 
L 535.557 68.218 
L 536.736 68.418 
L 540.009 69.157 
L 542.395 69.358 
L 543.294 69.673 
L 544.099 70.172 
L 545.163 71.154 
L 546.421 72.613 
L 547.630 74.398 
L 548.897 76.721 
L 550.192 79.564 
L 551.280 82.489 
L 552.615 86.091 
L 557.139 97.215 
L 558.628 101.779 
L 560.243 107.564 
L 562.170 115.253 
L 566.355 133.020 
L 567.855 140.312 
L 569.905 151.414 
L 571.658 160.615 
L 573.700 170.248 
L 576.067 180.302 
L 577.902 187.268 
L 579.971 194.171 
L 582.227 201.017 
L 583.727 204.816 
L 585.245 208.082 
L 586.755 210.828 
L 588.102 212.807 
L 589.352 214.291 
L 590.584 215.407 
L 591.976 216.336 
L 593.702 217.221 
L 595.713 218.007 
L 597.795 218.603 
L 600.625 219.153 
L 603.487 219.480 
L 607.786 219.915 
L 611.328 220.598 
L 614.391 221.192 
L 617.742 221.424 
L 621.586 221.472 
L 637.68 221.472 
L 637.68 221.472 
" clip-path="url(#p4743c9e62c)" style="fill: none; stroke: #ff0000; stroke-width: 1.5; stroke-linecap: square"/>
   </g>
   <g id="patch_25">
    <path d="M 420.244 229.210 
L 420.244 60.48 
" style="fill: none; stroke: #000000; stroke-width: 0.8; stroke-linejoin: miter; stroke-linecap: square"/>
   </g>
   <g id="patch_26">
    <path d="M 648 229.210 
L 648 60.48 
" style="fill: none; stroke: #000000; stroke-width: 0.8; stroke-linejoin: miter; stroke-linecap: square"/>
   </g>
   <g id="patch_27">
    <path d="M 420.244 229.210 
L 648 229.210 
" style="fill: none; stroke: #000000; stroke-width: 0.8; stroke-linejoin: miter; stroke-linecap: square"/>
   </g>
   <g id="patch_28">
    <path d="M 420.244 60.48 
L 648 60.48 
" style="fill: none; stroke: #000000; stroke-width: 0.8; stroke-linejoin: miter; stroke-linecap: square"/>
   </g>
   <g id="legend_5">
    <g id="patch_29">
     <path d="M 596.021 83.468 L 641 83.468 Q 643 83.468 643 81.468 L 643 67.480 Q 643 65.480 641 65.480 L 596.021 65.480 Q 594.021 65.480 594.021 67.480 L 594.021 81.468 Q 594.021 83.468 596.021 83.468 z" transform="translate(-0.12 -0.12)" style="fill: #ffffff; opacity: 0.8; stroke: #cccccc; stroke-linejoin: miter"/>
    </g>
    <g id="line2d_55">
     <path transform="translate(-0.12 0.220)" d="M 598.021 73.578 
L 608.021 73.578 
L 618.021 73.578 
" style="fill: none; stroke: #ff0000; stroke-width: 1.5; stroke-linecap: square"/>
    </g>
    <g id="text_62">
     <text style="font-size: 10px; font-family: 'DejaVu Sans', 'Liberation Sans', sans-serif; text-anchor: start" x="626.021" y="77.078">RP</text>
    </g>
   </g>
  </g>
  <g id="axes_6">
   <g id="matplotlib.axis_9">
    <g id="ytick_30">
     <g id="line2d_56">
      <g>
       <use href="#mc3a93c45a5" x="648" y="421.449" style="stroke: #000000; stroke-width: 0.8"/>
      </g>
     </g>
     <g id="text_63">
      <text transform="translate(-0.29 -0.38)" style="font-size: 10px; font-family: 'DejaVu Sans', 'Liberation Sans', sans-serif; text-anchor: start" x="655" y="425.248">0</text>
     </g>
    </g>
    <g id="ytick_31">
     <g id="line2d_57">
      <g>
       <use href="#mc3a93c45a5" x="648" y="390.179" style="stroke: #000000; stroke-width: 0.8"/>
      </g>
     </g>
     <g id="text_64">
      <text transform="translate(-0.29 -0.38)" style="font-size: 10px; font-family: 'DejaVu Sans', 'Liberation Sans', sans-serif; text-anchor: start" x="655" y="393.978">1</text>
     </g>
    </g>
    <g id="ytick_32">
     <g id="line2d_58">
      <g>
       <use href="#mc3a93c45a5" x="648" y="358.910" style="stroke: #000000; stroke-width: 0.8"/>
      </g>
     </g>
     <g id="text_65">
      <text transform="translate(-0.29 -0.38)" style="font-size: 10px; font-family: 'DejaVu Sans', 'Liberation Sans', sans-serif; text-anchor: start" x="655" y="362.709">2</text>
     </g>
    </g>
    <g id="ytick_33">
     <g id="line2d_59">
      <g>
       <use href="#mc3a93c45a5" x="648" y="327.640" style="stroke: #000000; stroke-width: 0.8"/>
      </g>
     </g>
     <g id="text_66">
      <text transform="translate(-0.29 -0.38)" style="font-size: 10px; font-family: 'DejaVu Sans', 'Liberation Sans', sans-serif; text-anchor: start" x="655" y="331.439">3</text>
     </g>
    </g>
    <g id="ytick_34">
     <g id="line2d_60">
      <g>
       <use href="#mc3a93c45a5" x="648" y="296.371" style="stroke: #000000; stroke-width: 0.8"/>
      </g>
     </g>
     <g id="text_67">
      <text transform="translate(-0.29 -0.38)" style="font-size: 10px; font-family: 'DejaVu Sans', 'Liberation Sans', sans-serif; text-anchor: start" x="655" y="300.170">4</text>
     </g>
    </g>
    <g id="text_68">
     <!-- Flux (W * m$^2$ * nm$^-$$^1$) -->
     <g transform="translate(1.25 -0.24) translate(673.782 418.594) rotate(-90)">
      <text><tspan x="0.000" y="-0.977" style="font-size: 10px; font-family: 'DejaVu Sans', 'Liberation Sans', sans-serif; font-kerning: none">Flux (W * m</tspan><tspan x="58.948" y="-4.805" style="font-size: 7px; font-family: 'DejaVu Sans', 'Liberation Sans', sans-serif; font-kerning: none">2</tspan><tspan x="66.854" y="-0.977" style="font-size: 10px; font-family: 'DejaVu Sans', 'Liberation Sans', sans-serif; font-kerning: none">* nm</tspan><tspan x="92.571" y="-4.805" style="font-size: 7px; font-family: 'DejaVu Sans', 'Liberation Sans', sans-serif; font-kerning: none">−</tspan><tspan x="100.169" y="-4.805" style="font-size: 7px; font-family: 'DejaVu Sans', 'Liberation Sans', sans-serif; font-kerning: none">1</tspan><tspan x="104.896" y="-0.977" style="font-size: 10px; font-family: 'DejaVu Sans', 'Liberation Sans', sans-serif; font-kerning: none">)</tspan></text>
     </g>
    </g>
    <g id="text_69">
     <text style="font-size: 10px; font-family: 'DejaVu Sans', 'Liberation Sans', sans-serif; text-anchor: end" x="648" y="276.829">1e−16</text>
    </g>
   </g>
   <g id="line2d_61">
    <path transform="translate(-0.12 -0.12)" d="M 115.344 287.52 
L 116.577 357.386 
L 117.036 366.021 
L 117.468 370.560 
L 118.129 374.834 
L 118.814 378.127 
L 119.714 381.369 
L 120.564 383.620 
L 121.355 385.123 
L 121.972 385.841 
L 122.555 386.237 
L 123.218 386.407 
L 125.271 386.606 
L 126.062 387.157 
L 127.296 387.995 
L 127.948 388.231 
L 128.616 388.217 
L 129.284 387.980 
L 130.110 387.448 
L 131.606 386.292 
L 132.244 386.282 
L 133.137 386.602 
L 133.942 387.155 
L 134.893 387.860 
L 135.541 388.045 
L 138.570 388.388 
L 139.154 388.055 
L 139.771 387.327 
L 140.311 386.270 
L 141.126 383.948 
L 142.025 381.185 
L 142.425 380.622 
L 142.954 380.206 
L 143.324 380.116 
L 143.675 380.229 
L 144.160 380.708 
L 146.147 383.199 
L 146.780 383.498 
L 147.486 383.609 
L 148.859 383.670 
L 149.410 384.003 
L 149.859 384.586 
L 150.388 385.684 
L 150.949 387.538 
L 152.385 392.444 
L 152.993 393.620 
L 153.400 394.044 
L 153.672 394.078 
L 153.941 393.891 
L 154.334 393.308 
L 155.083 391.691 
L 156.299 388.791 
L 156.842 388.008 
L 157.375 387.602 
L 157.783 387.489 
L 158.205 387.540 
L 159.055 387.953 
L 159.919 388.270 
L 160.323 388.231 
L 160.691 388.018 
L 161.163 387.471 
L 161.730 386.406 
L 162.276 384.806 
L 163.157 381.288 
L 164.177 376.100 
L 165.618 368.545 
L 166.335 365.974 
L 166.877 364.614 
L 167.378 363.836 
L 168.088 363.203 
L 168.732 362.941 
L 169.666 362.858 
L 171.089 362.756 
L 171.970 362.406 
L 172.985 361.716 
L 174.877 360.251 
L 175.778 359.960 
L 176.458 359.962 
L 177.109 360.208 
L 177.899 360.768 
L 178.734 361.612 
L 182.022 365.470 
L 183.785 367.106 
L 185.170 368.069 
L 186.049 368.422 
L 186.978 368.537 
L 187.661 368.396 
L 188.289 368.048 
L 188.974 367.412 
L 189.618 366.434 
L 190.540 364.410 
L 191.762 361.273 
L 194.015 355.448 
L 194.977 353.779 
L 195.884 352.630 
L 196.620 352.053 
L 197.490 351.734 
L 198.926 351.525 
L 200.587 351.317 
L 201.490 350.996 
L 202.497 350.378 
L 203.360 349.549 
L 206.186 346.572 
L 207.190 345.916 
L 208.086 345.628 
L 209.019 345.588 
L 209.695 345.768 
L 210.983 346.444 
L 213.116 347.553 
L 214.262 347.882 
L 215.447 347.974 
L 216.381 347.818 
L 220.309 346.752 
L 221.257 346.813 
L 222.174 347.088 
L 223.219 347.647 
L 227.213 350.337 
L 228.122 350.607 
L 229.309 350.706 
L 230.492 350.574 
L 231.870 350.136 
L 234.800 349.060 
L 235.744 348.968 
L 236.688 349.103 
L 237.807 349.496 
L 238.833 350.114 
L 243.792 353.509 
L 244.935 353.868 
L 245.882 353.979 
L 247.070 353.850 
L 248.452 353.462 
L 249.759 352.850 
L 251.602 351.715 
L 253.083 350.912 
L 254.431 350.425 
L 255.847 350.168 
L 256.795 350.181 
L 258.208 350.465 
L 263.594 351.730 
L 265.023 351.746 
L 267.175 351.496 
L 269.051 351.096 
L 271.613 350.460 
L 274.004 350.232 
L 275.925 350.268 
L 277.823 350.502 
L 282.992 351.547 
L 284.420 351.424 
L 288.715 350.865 
L 290.152 350.906 
L 291.805 351.186 
L 293.156 351.642 
L 297.834 353.579 
L 299.941 354.008 
L 302.099 354.255 
L 303.775 354.238 
L 308.810 353.968 
L 310.707 354.172 
L 312.570 354.664 
L 315.607 355.408 
L 320.768 356.511 
L 322.194 356.407 
L 325.036 355.879 
L 328.102 355.274 
L 330.007 355.131 
L 330.689 355.259 
L 331.788 355.755 
L 333.532 356.575 
L 335.509 357.298 
L 336.216 357.945 
L 338.229 360.019 
L 339.061 360.487 
L 339.963 360.759 
L 341.870 360.988 
L 343.779 361.298 
L 345.433 361.561 
L 346.380 361.493 
L 347.533 361.181 
L 348.828 360.552 
L 349.931 360.073 
L 350.858 359.865 
L 351.797 359.920 
L 352.938 360.274 
L 356.472 361.777 
L 357.411 361.813 
L 359.079 361.575 
L 360.974 361.301 
L 361.915 361.421 
L 363.039 361.822 
L 364.282 362.550 
L 365.761 363.371 
L 366.885 363.761 
L 368.065 363.909 
L 369.010 363.806 
L 371.858 363.337 
L 372.797 363.408 
L 373.942 363.770 
L 375.682 364.590 
L 377.673 365.450 
L 378.836 365.696 
L 380.271 365.740 
L 383.135 365.589 
L 384.791 365.892 
L 387.102 366.548 
L 389.209 367.031 
L 391.115 367.253 
L 393.977 367.537 
L 396.556 368.129 
L 399.127 368.721 
L 400.560 368.804 
L 404.639 368.758 
L 406.051 368.977 
L 407.654 369.501 
L 410.156 370.346 
L 411.575 370.571 
L 413.008 370.524 
L 417.308 370.193 
L 418.479 370.445 
L 420.065 371.014 
L 421.864 371.682 
L 423.510 372.035 
L 424.702 372.094 
L 426.617 371.932 
L 430.896 371.476 
L 432.308 371.767 
L 433.656 372.247 
L 436.989 373.660 
L 438.605 374.097 
L 440.508 374.335 
L 442.429 374.332 
L 444.585 374.344 
L 446.482 374.654 
L 449.277 375.357 
L 451.874 375.845 
L 454.500 376.107 
L 459.517 376.547 
L 462.321 377.231 
L 464.429 377.693 
L 466.576 377.938 
L 470.419 378.062 
L 473.284 378.206 
L 474.683 378.569 
L 476.706 379.331 
L 478.734 380.081 
L 480.824 380.627 
L 482.722 380.911 
L 485.602 381.031 
L 489.192 381.182 
L 497.975 382.453 
L 499.404 382.276 
L 501.031 381.859 
L 502.657 381.442 
L 504.563 381.202 
L 506.962 381.138 
L 508.387 381.312 
L 510.480 381.852 
L 515.770 383.404 
L 518.636 383.724 
L 521.275 383.831 
L 525.592 383.929 
L 528.443 384.354 
L 532.233 384.972 
L 537.735 385.481 
L 541.071 385.844 
L 544.127 386.490 
L 549.558 387.599 
L 551.222 387.753 
L 553.860 387.693 
L 556.732 387.455 
L 560.306 387.013 
L 562.713 387.086 
L 564.594 387.312 
L 565.962 387.748 
L 569.155 388.888 
L 571.942 389.622 
L 574.794 390.058 
L 576.705 390.143 
L 578.370 389.962 
L 584.550 388.991 
L 586.231 389.059 
L 588.360 389.393 
L 589.481 389.755 
L 593.938 391.592 
L 594.871 391.771 
L 596.543 391.787 
L 597.478 391.654 
L 598.823 391.137 
L 599.639 390.649 
L 600.528 389.847 
L 603.259 386.836 
L 604.015 385.925 
L 605.540 384.427 
L 606.326 383.507 
L 607.556 382.890 
L 608.472 382.272 
L 610.824 383.88 
L 612.053 386.761 
L 613.135 389.957 
L 613.826 392.764 
L 615.895 402.428 
L 616.897 408.125 
L 618.341 417.169 
L 620.622 431.942 
L 621.547 436.666 
L 622.56 440.64 
L 622.56 440.64 
" clip-path="url(#pee1f3341e4)" style="fill: none; stroke: #000000; stroke-width: 1.5; stroke-linecap: square"/>
   </g>
   <g id="patch_30">
    <path d="M 90 448.56 
L 90 279.829 
" style="fill: none; stroke: #000000; stroke-width: 0.8; stroke-linejoin: miter; stroke-linecap: square"/>
   </g>
   <g id="patch_31">
    <path d="M 648 448.56 
L 648 279.829 
" style="fill: none; stroke: #000000; stroke-width: 0.8; stroke-linejoin: miter; stroke-linecap: square"/>
   </g>
   <g id="patch_32">
    <path d="M 90 448.56 
L 648 448.56 
" style="fill: none; stroke: #000000; stroke-width: 0.8; stroke-linejoin: miter; stroke-linecap: square"/>
   </g>
   <g id="patch_33">
    <path d="M 90 279.829 
L 648 279.829 
" style="fill: none; stroke: #000000; stroke-width: 0.8; stroke-linejoin: miter; stroke-linecap: square"/>
   </g>
   <g id="legend_6">
    <g id="patch_34">
     <path d="M 97 443.560 L 149.785 443.560 Q 151.785 443.560 151.785 441.560 L 151.785 427.571 Q 151.785 425.571 149.785 425.571 L 97 425.571 Q 95 425.571 95 427.571 L 95 441.560 Q 95 443.560 97 443.560 z" transform="translate(-0.12 -0.12)" style="fill: #ffffff; opacity: 0.8; stroke: #cccccc; stroke-linejoin: miter"/>
    </g>
    <g id="line2d_62">
     <path transform="translate(-0.12 -0.120)" d="M 99 433.980 
L 109 433.980 
L 119 433.980 
" style="fill: none; stroke: #000000; stroke-width: 1.5; stroke-linecap: square"/>
    </g>
    <g id="text_70">
     <text style="font-size: 10px; font-family: 'DejaVu Sans', 'Liberation Sans', sans-serif; text-anchor: start" x="127" y="437.480">Flux</text>
    </g>
   </g>
  </g>
 </g>
 <defs>
  <clipPath id="p9592040761">
   <rect x="90" y="60.48" width="227.755" height="168.730"/>
  </clipPath>
  <clipPath id="p4743c9e62c">
   <rect x="420.244" y="60.48" width="227.755" height="168.730"/>
  </clipPath>
  <clipPath id="pee1f3341e4">
   <rect x="90" y="279.829" width="558" height="168.730"/>
  </clipPath>
 </defs>
</g></svg>

</body></html>
